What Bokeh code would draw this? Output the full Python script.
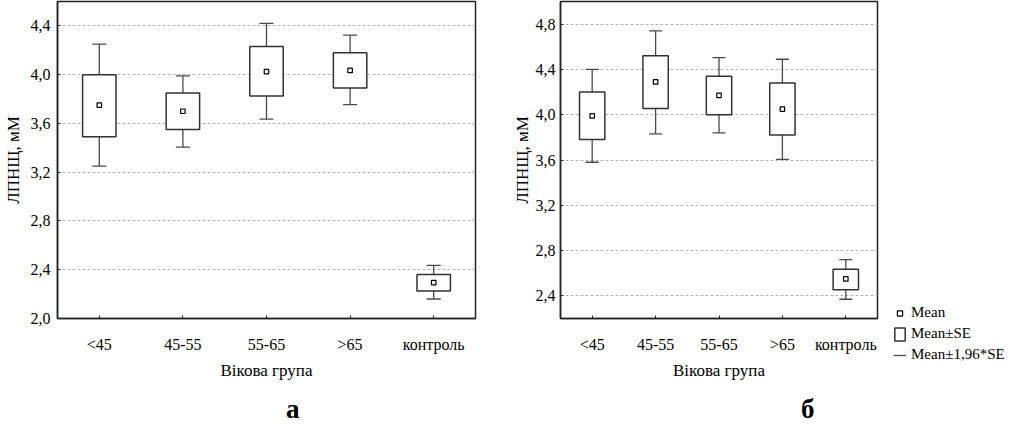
from bokeh.plotting import figure
from bokeh.models import (ColumnDataSource, FactorRange, Range1d, FixedTicker,
                          CustomJSTickFormatter, Legend, LegendItem, Div)
from bokeh.layouts import row, column
from bokeh.embed import file_html
from bokeh.resources import INLINE

# ---------------- data ----------------
categories = ["<45", "45-55", "55-65", ">65", "контроль"]

a_mean    = [3.75, 3.70, 4.025, 4.035, 2.295]
a_se_low  = [3.49, 3.55, 3.825, 3.89, 2.225]
a_se_high = [4.00, 3.85, 4.23, 4.18, 2.36]
a_ci_low  = [3.25, 3.405, 3.635, 3.755, 2.16]
a_ci_high = [4.25, 3.99, 4.42, 4.325, 2.435]
a_ticks   = [2.0, 2.4, 2.8, 3.2, 3.6, 4.0, 4.4]

b_mean    = [3.99, 4.29, 4.17, 4.05, 2.55]
b_se_low  = [3.78, 4.055, 4.00, 3.82, 2.455]
b_se_high = [4.20, 4.52, 4.34, 4.28, 2.635]
b_ci_low  = [3.58, 3.83, 3.84, 3.605, 2.37]
b_ci_high = [4.40, 4.74, 4.505, 4.49, 2.72]
b_ticks   = [2.4, 2.8, 3.2, 3.6, 4.0, 4.4, 4.8]

x_title = "Вікова група"
y_title = "ЛПНЩ, мМ"
panel_letters = ["а", "б"]
legend_labels = ["Mean", "Mean±SE", "Mean±1,96*SE"]

FONT = "Liberation Serif"
FRAME_H = 317
BOTTOM = 58
TOTAL_H = 411


def make_panel(mean, se_lo, se_hi, ci_lo, ci_hi, ticks, y0, y1, *,
               border_left, frame_w, border_right, cap, tick_standoff, title_standoff):
    src = ColumnDataSource(dict(cat=categories, mean=mean, se_lo=se_lo,
                                se_hi=se_hi, ci_lo=ci_lo, ci_hi=ci_hi))
    p = figure(x_range=FactorRange(*categories), y_range=Range1d(y0, y1),
               frame_width=frame_w, frame_height=FRAME_H,
               min_border_left=border_left, min_border_right=border_right,
               min_border_top=1, min_border_bottom=BOTTOM,
               output_backend="svg", toolbar_location=None,
               x_axis_label=x_title, y_axis_label=y_title)
    p.background_fill_color = "white"
    p.border_fill_color = "white"
    p.outline_line_color = "#222222"
    p.outline_line_width = 1.5

    # grid
    p.xgrid.visible = False
    p.ygrid.ticker = FixedTicker(ticks=ticks)
    p.ygrid.grid_line_color = "#b4b4b4"
    p.ygrid.grid_line_dash = "3 2"
    p.ygrid.grid_line_width = 1

    # axes
    fmt = CustomJSTickFormatter(code="return tick.toFixed(1).replace('.', ',');")
    p.yaxis.ticker = FixedTicker(ticks=ticks)
    p.yaxis.formatter = fmt
    for ax in (p.xaxis[0], p.yaxis[0]):
        ax.axis_line_color = "#222222"
        ax.axis_line_width = 1.5
        ax.major_tick_in = 3
        ax.major_tick_out = 0
        ax.minor_tick_line_color = None
        ax.major_tick_line_color = "#222222"
        ax.major_label_text_font = FONT
        ax.major_label_text_font_size = "16px"
        ax.major_label_text_color = "black"
        ax.axis_label_text_font = FONT
        ax.axis_label_text_font_size = "17px"
        ax.axis_label_text_font_style = "normal"
        ax.axis_label_text_color = "black"
    p.yaxis.major_label_standoff = tick_standoff
    p.yaxis.axis_label_standoff = title_standoff
    p.xaxis.major_label_standoff = 17
    p.xaxis.axis_label_standoff = 5

    # glyphs
    stem = p.segment(x0="cat", y0="ci_lo", x1="cat", y1="ci_hi", source=src,
                     line_color="#4a4a4a", line_width=1.3)
    box = p.vbar(x="cat", width=0.4, bottom="se_lo", top="se_hi", source=src,
                 fill_color="white", line_color="#333333", line_width=1.5)
    p.scatter(x="cat", y="ci_hi", source=src, marker="dash", size=cap,
              line_color="#4a4a4a", line_width=1.3)
    p.scatter(x="cat", y="ci_lo", source=src, marker="dash", size=cap,
              line_color="#4a4a4a", line_width=1.3)
    mean_r = p.scatter(x="cat", y="mean", source=src, marker="square", size=4.5,
                       fill_color="white", line_color="black", line_width=1.2)
    return p, mean_r, box, stem


def letter_div(letter, width, left):
    html = ('<div style="margin:0; padding:0; margin-left:%dpx; margin-top:21px; '
            'font-family:\'Liberation Serif\'; font-size:27px; font-weight:bold; '
            'line-height:0.5; color:black;">%s</div>' % (left, letter))
    return Div(text=html, width=width, height=TOTAL_H - 1 - FRAME_H - BOTTOM, margin=0)


pa, _, _, _ = make_panel(a_mean, a_se_low, a_se_high, a_ci_low, a_ci_high, a_ticks, 2.0, 4.6,
                         border_left=56, frame_w=418, border_right=34,
                         cap=14, tick_standoff=7, title_standoff=5)

pb, mean_r, box_r, stem_r = make_panel(b_mean, b_se_low, b_se_high, b_ci_low, b_ci_high, b_ticks, 2.2, 5.0,
                                       border_left=51, frame_w=317, border_right=121,
                                       cap=13, tick_standoff=5, title_standoff=1)

legend = Legend(items=[LegendItem(label=legend_labels[0], renderers=[mean_r]),
                       LegendItem(label=legend_labels[1], renderers=[box_r]),
                       LegendItem(label=legend_labels[2], renderers=[stem_r])],
                location=(16, -45), orientation="vertical",
                glyph_width=13, glyph_height=16, label_height=16, spacing=4,
                padding=0, margin=0, label_standoff=5,
                border_line_color=None, background_fill_alpha=0,
                label_text_font=FONT, label_text_font_size="15px",
                label_text_color="black")
pb.add_layout(legend, "right")

da = letter_div(panel_letters[0], 508, 286)
db = letter_div(panel_letters[1], 489, 292)

layout = row(column(pa, da, spacing=0), column(pb, db, spacing=0), spacing=0)
open("out.html", "w").write(file_html(layout, INLINE))
